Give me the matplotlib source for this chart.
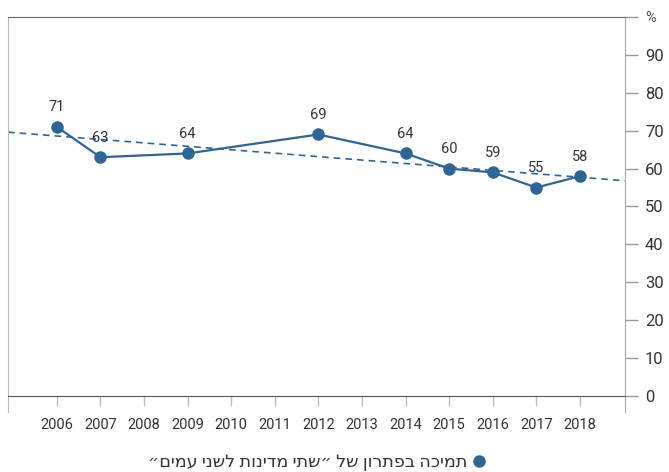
import numpy as np
import matplotlib.pyplot as plt
from matplotlib.lines import Line2D

# נתונים
years = [2006, 2007, 2009, 2012, 2014, 2015, 2016, 2017, 2018]
support = [71, 63, 64, 69, 64, 60, 59, 55, 58]
year_ticks = list(range(2006, 2019))
y_ticks = [0, 10, 20, 30, 40, 50, 60, 70, 80, 90, 100]
y_labels = ['0', '10', '20', '30', '40', '50', '60', '70', '80', '90', '%']
legend_label = 'תמיכה בפתרון של ״שתי מדינות לשני עמים״'

blue = '#2e6597'
plt.rcParams['font.family'] = ['Roboto', 'DejaVu Sans']

fig = plt.figure(figsize=(6.69, 4.72), dpi=100)
ax = fig.add_axes([0.012, 0.161, 0.922, 0.803])

xlim = (2004.88, 2019.03)
ax.set_xlim(*xlim)
ax.set_ylim(0, 100)

# קו מגמה
k, b = np.polyfit(years, support, 1)
xt = np.array(xlim)
ax.plot(xt, k * xt + b, color=blue, lw=1.2, ls=(0, (4, 3)), zorder=2)

ax.plot(years, support, color=blue, lw=1.6, marker='o', ms=8, zorder=3)
for x, y in zip(years, support):
    ax.annotate(str(y), (x, y), xytext=(0, 9), textcoords='offset points',
                ha='center', va='bottom', fontsize=10.5, color='#333333')

# צירים
ax.yaxis.tick_right()
ax.set_yticks(y_ticks)
ax.set_yticklabels(y_labels)
for lab in ax.get_yticklabels():
    lab.set_fontsize(12)
    lab.set_color('#333333')
ax.get_yticklabels()[-1].set_fontsize(10.5)
ax.get_yticklabels()[-1].set_color('#555555')
ax.tick_params(axis='y', length=9.5, width=1, color='#999999', pad=5)

ax.set_xticks(year_ticks)
ax.set_xticklabels([str(y) for y in year_ticks])
ax.tick_params(axis='x', length=7, width=1, color='#bbbbbb', pad=9,
               labelsize=10.5, labelcolor='#333333')

ax.spines['top'].set_color('#666666')
ax.spines['bottom'].set_color('#555555')
ax.spines['left'].set_color('#bbbbbb')
ax.spines['right'].set_color('#aaaaaa')
ax.spines['left'].set_bounds(-4.3, 100)
ax.spines['right'].set_bounds(-4.3, 100)

handle = Line2D([], [], color=blue, marker='o', ls='none', ms=8)
fig.legend([handle], [legend_label[::-1]], loc='center', bbox_to_anchor=(0.474, 0.02),
           frameon=False, markerfirst=False, fontsize=12.6, handletextpad=0.3,
           handlelength=0.8, labelcolor='#333333', borderpad=0)

fig.savefig('out.png', dpi=100)
